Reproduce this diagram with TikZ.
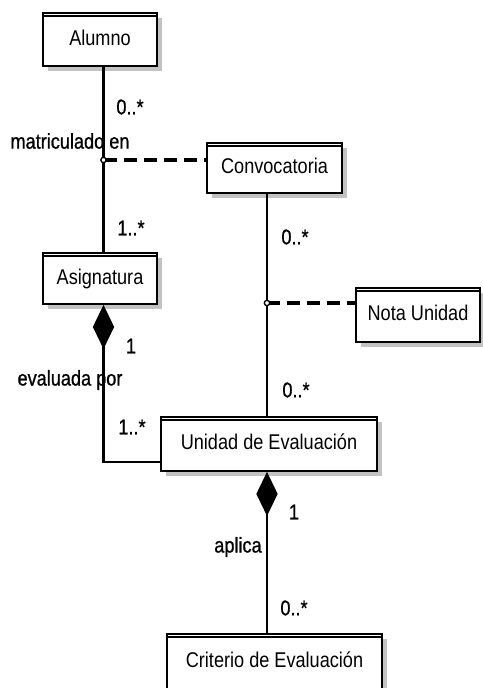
\documentclass[tikz,border=0pt]{standalone}
\usepackage{fontspec}
\setmainfont{Liberation Sans}[FakeStretch=0.85]
\newfontfamily\etiqfont{Liberation Sans}[FakeStretch=0.85, FakeBold=0.9]
\usetikzlibrary{arrows.meta,shadows}
\tikzset{
  clase/.style={draw, line width=1.4pt, fill=white, inner sep=0pt,
    font=\fontsize{16}{18}\selectfont, text height=1.9ex, text depth=.2ex,
    drop shadow={shadow xshift=3.8pt, shadow yshift=-3.8pt, fill=black!24, opacity=1}},
  asoc/.style={line width=1.8pt},
  enlace/.style={line width=2.4pt, dash pattern=on 10pt off 5pt},
  etiq/.style={font=\etiqfont\fontsize{16}{18}\selectfont, inner sep=0pt},
  rombo/.style={{Diamond[length=33pt,width=16pt]}-}
}
\begin{document}
\begin{tikzpicture}[x=0.75pt, y=-0.75pt]
    \useasboundingbox (0,0) rectangle (482,688) ;
  %--- Clases
    \node[clase, minimum width=85.5pt, minimum height=39.75pt] (alumno) at (100,39.5) {Alumno} ;
    \node[clase, minimum width=101.25pt, minimum height=37.5pt] (convocatoria) at (274.5,168) {Convocatoria} ;
    \node[clase, minimum width=85.5pt, minimum height=38.25pt] (asignatura) at (100,278.5) {Asignatura} ;
    \node[clase, minimum width=93pt, minimum height=40.5pt] (nota) at (418,315) {Nota Unidad} ;
    \node[clase, minimum width=162pt, minimum height=40.5pt] (unidad) at (269,444) {Unidad de Evaluación} ;
    \node[clase, minimum width=161.25pt, minimum height=42pt] (criterio) at (274.5,662) {Criterio de Evaluación} ;
    \foreach \c in {alumno,convocatoria,asignatura,nota,unidad,criterio}
      \draw[line width=1pt] ([yshift=-3pt]\c.north west) -- ([yshift=-3pt]\c.north east) ;
  %--- Puntos de las asociaciones
    \coordinate (matric) at (103.5,160) ;
    \coordinate (notaU) at (267,303) ;
    \coordinate (codo) at (103.5,462) ;
  %--- Alumno - Asignatura
    \draw[asoc] (alumno.south -| matric) -- (asignatura.north -| matric) ;
    \draw[enlace] (matric) -- (matric -| convocatoria.west) ;
    \draw[line width=1pt, fill=white] (matric) circle (2pt) ;
    \node[etiq] (c1) at (130,107) {0..*} ;
    \node[etiq] (r1) at (70,141) {matriculado en} ;
    \node[etiq] (c2) at (131,228) {1..*} ;
  %--- Convocatoria - Unidad
    \draw[asoc] (convocatoria.south -| notaU) -- (unidad.north -| notaU) ;
    \draw[enlace] (notaU) -- (notaU -| nota.west) ;
    \draw[line width=1pt, fill=white] (notaU) circle (2pt) ;
    \node[etiq] (c3) at (295,237) {0..*} ;
    \node[etiq] (c4) at (296,390) {0..*} ;
  %--- Asignatura - Unidad
    \draw[asoc, rombo] (asignatura.south -| codo) -- (codo) -- (codo -| unidad.west) ;
    \node[etiq] (c5) at (131,346) {1} ;
    \node[etiq] (r2) at (70,380) {evaluada por} ;
    \node[etiq] (c6) at (132,427) {1..*} ;
  %--- Unidad - Criterio
    \draw[asoc, rombo] (unidad.south -| notaU) -- (criterio.north -| notaU) ;
    \node[etiq] (c7) at (294,512) {1} ;
    \node[etiq] (r3) at (238,547) {aplica} ;
    \node[etiq] (c8) at (294,608) {0..*} ;
\end{tikzpicture}
\end{document}
